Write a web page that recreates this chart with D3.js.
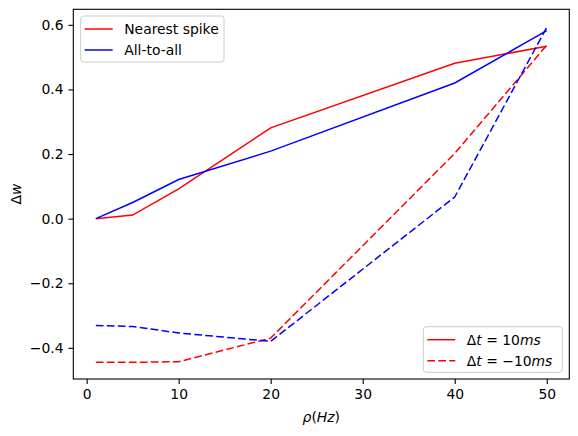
<!DOCTYPE html>
<meta charset="utf-8">
<script src="https://d3js.org/d3.v7.min.js"></script>
<style>
  body { margin: 0; background: #fff; }
  text { font-family: "DejaVu Sans", sans-serif; fill: #000; }
</style>
<div id="chart"></div>
<script>
// rates (Hz)
var rates = [1, 5, 10, 20, 40, 50];
// delta w for each rule, dt = +10ms (solid) and dt = -10ms (dashed)
var nearestPos = [0.0, 0.011, 0.092, 0.281, 0.481, 0.534];
var allPos = [0.0, 0.050, 0.121, 0.209, 0.420, 0.582];
var nearestNeg = [-0.445, -0.445, -0.443, -0.370, 0.202, 0.537];
var allNeg = [-0.331, -0.334, -0.354, -0.380, 0.067, 0.592];
var xTicks = [0, 10, 20, 30, 40, 50];
var yTicks = [-0.4, -0.2, 0.0, 0.2, 0.4, 0.6];

var W = 578, H = 436;
var margin = {top: 9.3, right: 8.7, bottom: 57, left: 73.3};
var width = W - margin.left - margin.right,
    height = H - margin.top - margin.bottom;

var svg = d3.select("#chart").append("svg")
  .attr("width", W).attr("height", H);
var g = svg.append("g")
  .attr("transform", "translate(" + margin.left + "," + margin.top + ")");

var x = d3.scaleLinear().domain([-1.45, 52.45]).range([0, width]);
var y = d3.scaleLinear().domain([-0.4965, 0.6481]).range([height, 0]);

var series = [
  {vals: nearestPos, color: "#ff0000", dash: null},
  {vals: allPos, color: "#0000ff", dash: null},
  {vals: nearestNeg, color: "#ff0000", dash: "7.7,3.3"},
  {vals: allNeg, color: "#0000ff", dash: "7.7,3.3"}
];

var line = d3.line()
  .x(function (d, i) { return x(rates[i]); })
  .y(function (d) { return y(d); });

g.selectAll(".series")
  .data(series)
  .enter()
  .append("path")
  .attr("d", function (d) { return line(d.vals); })
  .attr("fill", "none")
  .attr("stroke", function (d) { return d.color; })
  .attr("stroke-width", 1.5)
  .attr("stroke-dasharray", function (d) { return d.dash; });

// axes
var xAxis = g.append("g")
  .attr("transform", "translate(0," + height + ")")
  .call(d3.axisBottom(x).tickValues(xTicks).tickSize(4.9).tickPadding(4.9));
var yAxis = g.append("g")
  .call(d3.axisLeft(y).tickValues(yTicks).tickSize(4.9).tickPadding(4.9)
    .tickFormat(function (d) { return d3.format(".1f")(d).replace("-", "\u2212"); }));
[xAxis, yAxis].forEach(function (a) {
  a.selectAll("text").style("font-size", "13.9px").attr("fill", "#000");
  a.selectAll(".tick line").attr("stroke", "#000").attr("stroke-width", 1.1);
  a.select(".domain").remove();
});

// frame
g.append("rect")
  .attr("width", width).attr("height", height)
  .attr("fill", "none").attr("stroke", "#000").attr("stroke-width", 1.1);

// axis labels
var xl = svg.append("text")
  .attr("x", margin.left + width / 2).attr("y", 422)
  .attr("text-anchor", "middle").style("font-size", "13.9px");
xl.append("tspan").style("font-style", "italic").text("\u03c1");
xl.append("tspan").text("(");
xl.append("tspan").style("font-style", "italic").text("Hz");
xl.append("tspan").text(")");

var yl = svg.append("text")
  .attr("transform", "translate(21," + (margin.top + height / 2) + ") rotate(-90)")
  .attr("text-anchor", "middle").style("font-size", "13.9px");
yl.append("tspan").text("\u0394");
yl.append("tspan").style("font-style", "italic").text("w");

// legends
function legend(x0, y0, w, h, items) {
  var lg = svg.append("g").attr("transform", "translate(" + x0 + "," + y0 + ")");
  lg.append("rect")
    .attr("width", w).attr("height", h).attr("rx", 3)
    .attr("fill", "#fff").attr("fill-opacity", 0.8)
    .attr("stroke", "#cccccc").attr("stroke-width", 1);
  items.forEach(function (it, i) {
    var yy = 13 + i * 21;
    lg.append("line")
      .attr("x1", 4).attr("x2", 32).attr("y1", yy).attr("y2", yy)
      .attr("stroke", it.color).attr("stroke-width", 1.5)
      .attr("stroke-dasharray", it.dash);
    var t = lg.append("text").attr("x", 43.5).attr("y", yy + 5)
      .style("font-size", "13.9px");
    it.label(t);
  });
}

legend(80.7, 16, 143.3, 46, [
  {color: "#ff0000", dash: null, label: function (t) { t.text("Nearest spike"); }},
  {color: "#0000ff", dash: null, label: function (t) { t.text("All-to-all"); }}
]);

legend(423.3, 326.7, 139, 45.6, [
  {color: "#ff0000", dash: null, label: function (t) {
    t.append("tspan").text("\u0394");
    t.append("tspan").style("font-style", "italic").text("t");
    t.append("tspan").text(" = 10");
    t.append("tspan").style("font-style", "italic").text("ms");
  }},
  {color: "#ff0000", dash: "7.7,3.3", label: function (t) {
    t.append("tspan").text("\u0394");
    t.append("tspan").style("font-style", "italic").text("t");
    t.append("tspan").text(" = \u221210");
    t.append("tspan").style("font-style", "italic").text("ms");
  }}
]);
</script>
